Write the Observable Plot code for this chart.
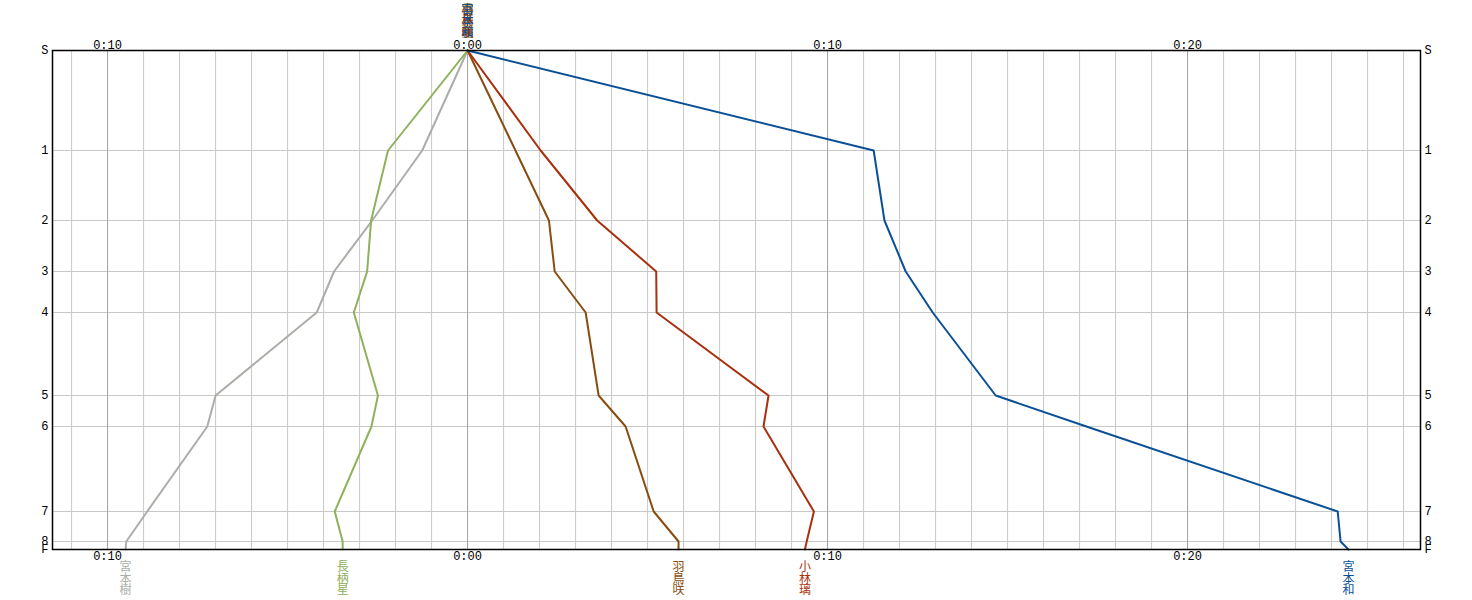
<!DOCTYPE html>
<html>
<head>
<meta charset="utf-8">
<script src="https://cdn.jsdelivr.net/npm/d3@7"></script>
<script src="https://cdn.jsdelivr.net/npm/@observablehq/plot@0.6"></script>
<style>
  html, body { margin: 0; padding: 0; background: #fff; }
  #chart svg { display: block; }
</style>
</head>
<body>
<div id="chart"></div>
<script>
// Stations (y) and their cumulative positions along the course
const stations = ["S", "1", "2", "3", "4", "5", "6", "7", "8", "F"];
const stationPos = [0, 100, 170, 221, 262, 345, 376, 461, 491, 499];

// Riders
const riders = ["宮本樹", "長柄星", "羽鳥咲", "小林璃", "宮本和"];
const riderColors = ["#a9aea7", "#8fb05c", "#874d10", "#a8300e", "#0b5096"];

// Time difference (minutes) at each station, per rider
const timesMiyamotoItsuki = [0, -1.26, -2.65, -3.71, -4.19, -7.0, -7.23, -8.9, -9.48, -9.5];
const timesNagaraHoshi    = [0, -2.21, -2.68, -2.79, -3.16, -2.49, -2.67, -3.69, -3.47, -3.47];
const timesHatoriSaki     = [0, 1.33, 2.26, 2.42, 3.28, 3.64, 4.39, 5.17, 5.86, 5.86];
const timesKobayashiRi    = [0, 2.03, 3.6, 5.24, 5.25, 8.36, 8.22, 9.62, 9.42, 9.37];
const timesMiyamotoKazu   = [0, 11.28, 11.58, 12.17, 12.92, 14.67, 17.19, 24.17, 24.25, 24.47];
const riderTimes = [timesMiyamotoItsuki, timesNagaraHoshi, timesHatoriSaki, timesKobayashiRi, timesMiyamotoKazu];

// Axis ticks
const timeTicks = [-10, 0, 10, 20];
const minuteGrid = d3.range(-11, 27);

const fmtTime = d => `0:${String(Math.abs(d)).padStart(2, "0")}`;
const stationLabel = p => stations[stationPos.indexOf(p)];

const rows = [];
riders.forEach((name, i) => {
  riderTimes[i].forEach((t, j) => rows.push({rider: name, t, pos: stationPos[j]}));
});
const endLabels = riders.map((name, i) => ({
  rider: name, t: riderTimes[i][riderTimes[i].length - 1], label: name.split("").join("\n")
}));
const startLabels = riders.map((name, i) => ({rider: name, t: 0, label: name.split("").join("\n")}));

const chart = Plot.plot({
  width: 1472,
  height: 600,
  marginLeft: 52,
  marginRight: 52,
  marginTop: 50,
  marginBottom: 51,
  style: {fontFamily: "'Liberation Mono', 'Noto Sans CJK JP', monospace", fontSize: "12px", background: "#fff", color: "#000"},
  x: {domain: [-11.53, 26.47]},
  y: {domain: [0, 499], reverse: true},
  color: {domain: riders, range: riderColors},
  marks: [
    Plot.ruleX(minuteGrid.filter(d => d % 10 !== 0), {stroke: "#c8c8c8", strokeOpacity: 1}),
    Plot.ruleY(stationPos, {stroke: "#c8c8c8", strokeOpacity: 1}),
    Plot.ruleX(timeTicks, {stroke: "#a0a0a0", strokeOpacity: 1}),
    Plot.line(rows, {x: "t", y: "pos", z: "rider", stroke: "rider", strokeWidth: 2}),
    Plot.frame({stroke: "#000", strokeWidth: 1.5}),
    Plot.axisX({anchor: "top", ticks: timeTicks, tickFormat: fmtTime, tickSize: 0, tickPadding: 2, label: null}),
    Plot.axisX({anchor: "bottom", ticks: timeTicks, tickFormat: fmtTime, tickSize: 0, tickPadding: 2, label: null}),
    Plot.axisY({anchor: "left", ticks: stationPos, tickFormat: stationLabel, tickSize: 0, tickPadding: 4, label: null}),
    Plot.axisY({anchor: "right", ticks: stationPos, tickFormat: stationLabel, tickSize: 0, tickPadding: 4, label: null}),
    Plot.text(endLabels, {x: "t", y: () => 499, text: "label", fill: "rider", dy: 13, lineAnchor: "top", lineHeight: 0.98, fontFamily: "'Noto Sans CJK JP', sans-serif", fontSize: 12}),
    Plot.text(startLabels, {x: "t", y: () => 0, text: "label", fill: "rider", dy: -14, lineAnchor: "bottom", lineHeight: 0.95, fontFamily: "'Noto Sans CJK JP', sans-serif", fontSize: 12})
  ]
});
document.getElementById("chart").appendChild(chart);
</script>
</body>
</html>
